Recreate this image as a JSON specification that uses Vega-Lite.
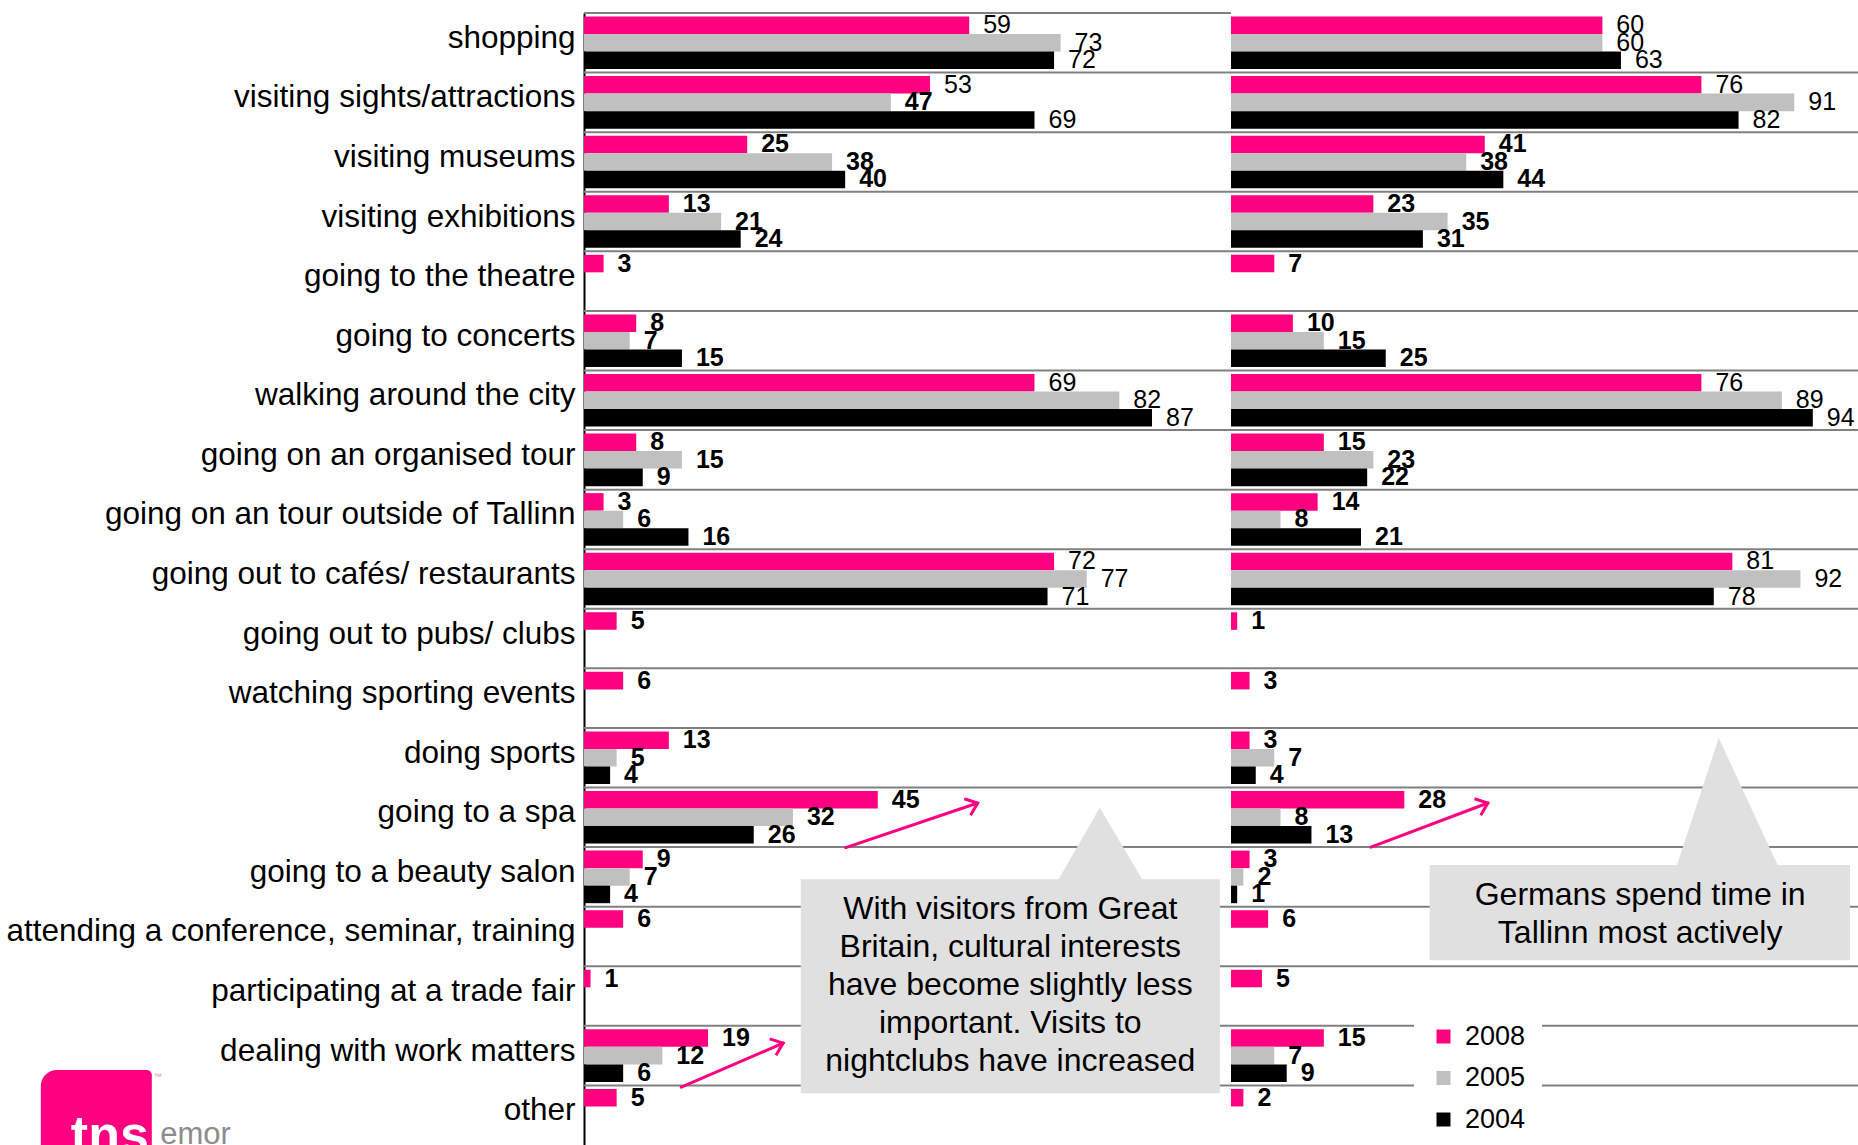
{
  "$schema": "https://vega.github.io/schema/vega-lite/v6.json",
  "width": 1274,
  "height": 1132,
  "autosize": {"type": "none"},
  "padding": {"left": 584, "top": 13, "right": 0, "bottom": 0},
  "background": "white",
  "config": {"view": {"stroke": null}, "font": "Liberation Sans"},
  "datasets": {
    "bars": [
      {"panel": "GB", "activity": "shopping", "year": "2008", "value": 59},
      {"panel": "GB", "activity": "shopping", "year": "2005", "value": 73},
      {"panel": "GB", "activity": "shopping", "year": "2004", "value": 72},
      {"panel": "GB", "activity": "visiting sights/attractions", "year": "2008", "value": 53},
      {"panel": "GB", "activity": "visiting sights/attractions", "year": "2005", "value": 47},
      {"panel": "GB", "activity": "visiting sights/attractions", "year": "2004", "value": 69},
      {"panel": "GB", "activity": "visiting museums", "year": "2008", "value": 25},
      {"panel": "GB", "activity": "visiting museums", "year": "2005", "value": 38},
      {"panel": "GB", "activity": "visiting museums", "year": "2004", "value": 40},
      {"panel": "GB", "activity": "visiting exhibitions", "year": "2008", "value": 13},
      {"panel": "GB", "activity": "visiting exhibitions", "year": "2005", "value": 21},
      {"panel": "GB", "activity": "visiting exhibitions", "year": "2004", "value": 24},
      {"panel": "GB", "activity": "going to the theatre", "year": "2008", "value": 3},
      {"panel": "GB", "activity": "going to concerts", "year": "2008", "value": 8},
      {"panel": "GB", "activity": "going to concerts", "year": "2005", "value": 7},
      {"panel": "GB", "activity": "going to concerts", "year": "2004", "value": 15},
      {"panel": "GB", "activity": "walking around the city", "year": "2008", "value": 69},
      {"panel": "GB", "activity": "walking around the city", "year": "2005", "value": 82},
      {"panel": "GB", "activity": "walking around the city", "year": "2004", "value": 87},
      {"panel": "GB", "activity": "going on an organised tour", "year": "2008", "value": 8},
      {"panel": "GB", "activity": "going on an organised tour", "year": "2005", "value": 15},
      {"panel": "GB", "activity": "going on an organised tour", "year": "2004", "value": 9},
      {"panel": "GB", "activity": "going on an tour outside of Tallinn", "year": "2008", "value": 3},
      {"panel": "GB", "activity": "going on an tour outside of Tallinn", "year": "2005", "value": 6},
      {"panel": "GB", "activity": "going on an tour outside of Tallinn", "year": "2004", "value": 16},
      {"panel": "GB", "activity": "going out to cafés/ restaurants", "year": "2008", "value": 72},
      {"panel": "GB", "activity": "going out to cafés/ restaurants", "year": "2005", "value": 77},
      {"panel": "GB", "activity": "going out to cafés/ restaurants", "year": "2004", "value": 71},
      {"panel": "GB", "activity": "going out to pubs/ clubs", "year": "2008", "value": 5},
      {"panel": "GB", "activity": "watching sporting events", "year": "2008", "value": 6},
      {"panel": "GB", "activity": "doing sports", "year": "2008", "value": 13},
      {"panel": "GB", "activity": "doing sports", "year": "2005", "value": 5},
      {"panel": "GB", "activity": "doing sports", "year": "2004", "value": 4},
      {"panel": "GB", "activity": "going to a spa", "year": "2008", "value": 45},
      {"panel": "GB", "activity": "going to a spa", "year": "2005", "value": 32},
      {"panel": "GB", "activity": "going to a spa", "year": "2004", "value": 26},
      {"panel": "GB", "activity": "going to a beauty salon", "year": "2008", "value": 9},
      {"panel": "GB", "activity": "going to a beauty salon", "year": "2005", "value": 7},
      {"panel": "GB", "activity": "going to a beauty salon", "year": "2004", "value": 4},
      {"panel": "GB", "activity": "attending a conference, seminar, training", "year": "2008", "value": 6},
      {"panel": "GB", "activity": "participating at a trade fair", "year": "2008", "value": 1},
      {"panel": "GB", "activity": "dealing with work matters", "year": "2008", "value": 19},
      {"panel": "GB", "activity": "dealing with work matters", "year": "2005", "value": 12},
      {"panel": "GB", "activity": "dealing with work matters", "year": "2004", "value": 6},
      {"panel": "GB", "activity": "other", "year": "2008", "value": 5},
      {"panel": "DE", "activity": "shopping", "year": "2008", "value": 60},
      {"panel": "DE", "activity": "shopping", "year": "2005", "value": 60},
      {"panel": "DE", "activity": "shopping", "year": "2004", "value": 63},
      {"panel": "DE", "activity": "visiting sights/attractions", "year": "2008", "value": 76},
      {"panel": "DE", "activity": "visiting sights/attractions", "year": "2005", "value": 91},
      {"panel": "DE", "activity": "visiting sights/attractions", "year": "2004", "value": 82},
      {"panel": "DE", "activity": "visiting museums", "year": "2008", "value": 41},
      {"panel": "DE", "activity": "visiting museums", "year": "2005", "value": 38},
      {"panel": "DE", "activity": "visiting museums", "year": "2004", "value": 44},
      {"panel": "DE", "activity": "visiting exhibitions", "year": "2008", "value": 23},
      {"panel": "DE", "activity": "visiting exhibitions", "year": "2005", "value": 35},
      {"panel": "DE", "activity": "visiting exhibitions", "year": "2004", "value": 31},
      {"panel": "DE", "activity": "going to the theatre", "year": "2008", "value": 7},
      {"panel": "DE", "activity": "going to concerts", "year": "2008", "value": 10},
      {"panel": "DE", "activity": "going to concerts", "year": "2005", "value": 15},
      {"panel": "DE", "activity": "going to concerts", "year": "2004", "value": 25},
      {"panel": "DE", "activity": "walking around the city", "year": "2008", "value": 76},
      {"panel": "DE", "activity": "walking around the city", "year": "2005", "value": 89},
      {"panel": "DE", "activity": "walking around the city", "year": "2004", "value": 94},
      {"panel": "DE", "activity": "going on an organised tour", "year": "2008", "value": 15},
      {"panel": "DE", "activity": "going on an organised tour", "year": "2005", "value": 23},
      {"panel": "DE", "activity": "going on an organised tour", "year": "2004", "value": 22},
      {"panel": "DE", "activity": "going on an tour outside of Tallinn", "year": "2008", "value": 14},
      {"panel": "DE", "activity": "going on an tour outside of Tallinn", "year": "2005", "value": 8},
      {"panel": "DE", "activity": "going on an tour outside of Tallinn", "year": "2004", "value": 21},
      {"panel": "DE", "activity": "going out to cafés/ restaurants", "year": "2008", "value": 81},
      {"panel": "DE", "activity": "going out to cafés/ restaurants", "year": "2005", "value": 92},
      {"panel": "DE", "activity": "going out to cafés/ restaurants", "year": "2004", "value": 78},
      {"panel": "DE", "activity": "going out to pubs/ clubs", "year": "2008", "value": 1},
      {"panel": "DE", "activity": "watching sporting events", "year": "2008", "value": 3},
      {"panel": "DE", "activity": "doing sports", "year": "2008", "value": 3},
      {"panel": "DE", "activity": "doing sports", "year": "2005", "value": 7},
      {"panel": "DE", "activity": "doing sports", "year": "2004", "value": 4},
      {"panel": "DE", "activity": "going to a spa", "year": "2008", "value": 28},
      {"panel": "DE", "activity": "going to a spa", "year": "2005", "value": 8},
      {"panel": "DE", "activity": "going to a spa", "year": "2004", "value": 13},
      {"panel": "DE", "activity": "going to a beauty salon", "year": "2008", "value": 3},
      {"panel": "DE", "activity": "going to a beauty salon", "year": "2005", "value": 2},
      {"panel": "DE", "activity": "going to a beauty salon", "year": "2004", "value": 1},
      {"panel": "DE", "activity": "attending a conference, seminar, training", "year": "2008", "value": 6},
      {"panel": "DE", "activity": "participating at a trade fair", "year": "2008", "value": 5},
      {"panel": "DE", "activity": "dealing with work matters", "year": "2008", "value": 15},
      {"panel": "DE", "activity": "dealing with work matters", "year": "2005", "value": 7},
      {"panel": "DE", "activity": "dealing with work matters", "year": "2004", "value": 9},
      {"panel": "DE", "activity": "other", "year": "2008", "value": 2}
    ],
    "boxes": [
      {"panel": "GB", "x1": 33.2, "x2": 97.4, "y1": 14.54, "y2": 18.13},
      {"panel": "DE", "x1": 32.1, "x2": 100.0, "y1": 14.3, "y2": 15.9}
    ],
    "pointers": [
      {"panel": "GB", "x": 72.6, "y": 14.56, "base": 14.56},
      {"panel": "GB", "x": 79.0, "y": 13.34, "base": 14.56},
      {"panel": "GB", "x": 85.6, "y": 14.56, "base": 14.56},
      {"panel": "DE", "x": 72.0, "y": 14.32, "base": 14.32},
      {"panel": "DE", "x": 78.8, "y": 12.17, "base": 14.32},
      {"panel": "DE", "x": 88.4, "y": 14.32, "base": 14.32}
    ],
    "notes": [
      {"panel": "GB", "x": 65.3, "y": 15.04, "text": "With visitors from Great\nBritain, cultural interests\nhave become slightly less\nimportant. Visits to\nnightclubs have increased"},
      {"panel": "DE", "x": 66.1, "y": 14.8, "text": "Germans spend time in\nTallinn most actively"}
    ],
    "arrows": [
      {"panel": "GB", "x1": 40.1, "y1": 14.01, "x2": 60.3, "y2": 13.26},
      {"panel": "GB", "x1": 14.9, "y1": 18.03, "x2": 30.5, "y2": 17.29},
      {"panel": "DE", "x1": 22.6, "y1": 14.0, "x2": 41.5, "y2": 13.26}
    ],
    "logo": [
      {"x1": -83.2, "x2": -66.2, "y1": 17.74, "y2": 19.4}
    ],
    "logotext": [
      {"part": "tns", "x": -78.6, "y": 19.12},
      {"part": "emor", "x": -64.9, "y": 18.98},
      {"part": "tm", "x": -65.9, "y": 17.86}
    ]
  },
  "resolve": {"scale": {"x": "independent", "y": "independent", "color": "shared"}},
  "layer": [
    {
      "data": {"name": "bars"},
      "transform": [{"filter": "datum.panel == 'GB' && datum.year == '2008' && datum.activity != 'shopping'"}],
      "mark": {"type": "rule", "color": "#808080", "strokeWidth": 2},
      "encoding": {
        "y": {"field": "activity", "type": "nominal", "bandPosition": 0, "axis": null,
              "scale": {"domain": ["shopping","visiting sights/attractions","visiting museums","visiting exhibitions","going to the theatre","going to concerts","walking around the city","going on an organised tour","going on an tour outside of Tallinn","going out to cafés/ restaurants","going out to pubs/ clubs","watching sporting events","doing sports","going to a spa","going to a beauty salon","attending a conference, seminar, training","participating at a trade fair","dealing with work matters","other"], "paddingInner": 0, "paddingOuter": 0}}
      }
    },
    {
      "data": {"name": "bars"},
      "transform": [{"filter": "datum.panel == 'GB' && datum.year == '2008' && datum.activity == 'shopping'"}],
      "mark": {"type": "rule", "color": "#808080", "strokeWidth": 2},
      "encoding": {
        "y": {"field": "activity", "type": "nominal", "bandPosition": 0, "axis": null,
              "scale": {"domain": ["shopping","visiting sights/attractions","visiting museums","visiting exhibitions","going to the theatre","going to concerts","walking around the city","going on an organised tour","going on an tour outside of Tallinn","going out to cafés/ restaurants","going out to pubs/ clubs","watching sporting events","doing sports","going to a spa","going to a beauty salon","attending a conference, seminar, training","participating at a trade fair","dealing with work matters","other"], "paddingInner": 0, "paddingOuter": 0}},
        "x": {"datum": 0, "type": "quantitative", "axis": null, "scale": {"domain": [0, 99.1], "range": [0, 647], "nice": false}},
        "x2": {"datum": 99.1}
      }
    },
    {
      "data": {"name": "bars"},
      "transform": [{"filter": "datum.panel == 'GB'"}],
      "mark": {"type": "bar"},
      "encoding": {
        "y": {"field": "activity", "type": "nominal",
              "scale": {"domain": ["shopping","visiting sights/attractions","visiting museums","visiting exhibitions","going to the theatre","going to concerts","walking around the city","going on an organised tour","going on an tour outside of Tallinn","going out to cafés/ restaurants","going out to pubs/ clubs","watching sporting events","doing sports","going to a spa","going to a beauty salon","attending a conference, seminar, training","participating at a trade fair","dealing with work matters","other"], "paddingInner": 0, "paddingOuter": 0},
              "axis": {"title": null, "orient": "left", "ticks": false, "grid": false, "domain": true, "domainColor": "#000000", "domainWidth": 2, "labelFontSize": 31.5, "labelFont": "Liberation Sans", "labelColor": "#000000", "labelPadding": 9, "labelOffset": -4, "labelLimit": 800}},
        "yOffset": {"field": "year", "type": "nominal", "scale": {"domain": ["2008", "2005", "2004"], "paddingInner": 0, "paddingOuter": 0.2}},
        "x": {"field": "value", "type": "quantitative", "axis": null, "scale": {"domain": [0, 99.1], "range": [0, 647], "nice": false}},
        "color": {"field": "year", "type": "nominal",
                  "scale": {"domain": ["2008", "2005", "2004"], "range": ["#FF0080", "#C0C0C0", "#000000"]},
                  "legend": {"title": null, "orient": "none", "legendX": 830, "legendY": 994, "symbolType": "square", "symbolSize": 196, "symbolStrokeWidth": 0, "labelFontSize": 27, "labelFont": "Liberation Sans", "labelColor": "#000000", "labelOffset": 8, "rowPadding": 13.5, "padding": 16, "fillColor": "white"}}
      }
    },
    {
      "data": {"name": "bars"},
      "transform": [{"filter": "datum.panel == 'DE'"}],
      "mark": {"type": "bar"},
      "encoding": {
        "y": {"field": "activity", "type": "nominal", "axis": null,
              "scale": {"domain": ["shopping","visiting sights/attractions","visiting museums","visiting exhibitions","going to the theatre","going to concerts","walking around the city","going on an organised tour","going on an tour outside of Tallinn","going out to cafés/ restaurants","going out to pubs/ clubs","watching sporting events","doing sports","going to a spa","going to a beauty salon","attending a conference, seminar, training","participating at a trade fair","dealing with work matters","other"], "paddingInner": 0, "paddingOuter": 0}},
        "yOffset": {"field": "year", "type": "nominal", "scale": {"domain": ["2008", "2005", "2004"], "paddingInner": 0, "paddingOuter": 0.2}},
        "x": {"field": "value", "type": "quantitative", "axis": null, "scale": {"domain": [0, 101.3], "range": [647, 1274], "nice": false}},
        "color": {"field": "year", "type": "nominal",
                  "scale": {"domain": ["2008", "2005", "2004"], "range": ["#FF0080", "#C0C0C0", "#000000"]},
                  "legend": {"title": null, "orient": "none", "legendX": 830, "legendY": 994, "symbolType": "square", "symbolSize": 196, "symbolStrokeWidth": 0, "labelFontSize": 27, "labelFont": "Liberation Sans", "labelColor": "#000000", "labelOffset": 8, "rowPadding": 13.5, "padding": 16, "fillColor": "white"}}
      }
    },
    {
      "data": {"name": "bars"},
      "transform": [{"filter": "datum.panel == 'GB' && datum.value < 50"}],
      "mark": {"type": "text", "align": "left", "baseline": "middle", "dx": 14, "fontSize": 25, "fontWeight": "bold", "color": "#000000"},
      "encoding": {
        "y": {"field": "activity", "type": "nominal", "axis": null,
              "scale": {"domain": ["shopping","visiting sights/attractions","visiting museums","visiting exhibitions","going to the theatre","going to concerts","walking around the city","going on an organised tour","going on an tour outside of Tallinn","going out to cafés/ restaurants","going out to pubs/ clubs","watching sporting events","doing sports","going to a spa","going to a beauty salon","attending a conference, seminar, training","participating at a trade fair","dealing with work matters","other"], "paddingInner": 0, "paddingOuter": 0}},
        "yOffset": {"field": "year", "type": "nominal", "scale": {"domain": ["2008", "2005", "2004"], "paddingInner": 0, "paddingOuter": 0.2}},
        "x": {"field": "value", "type": "quantitative", "axis": null, "scale": {"domain": [0, 99.1], "range": [0, 647], "nice": false}},
        "text": {"field": "value", "type": "quantitative"}
      }
    },
    {
      "data": {"name": "bars"},
      "transform": [{"filter": "datum.panel == 'GB' && datum.value >= 50"}],
      "mark": {"type": "text", "align": "left", "baseline": "middle", "dx": 14, "fontSize": 25, "fontWeight": "normal", "color": "#000000"},
      "encoding": {
        "y": {"field": "activity", "type": "nominal", "axis": null,
              "scale": {"domain": ["shopping","visiting sights/attractions","visiting museums","visiting exhibitions","going to the theatre","going to concerts","walking around the city","going on an organised tour","going on an tour outside of Tallinn","going out to cafés/ restaurants","going out to pubs/ clubs","watching sporting events","doing sports","going to a spa","going to a beauty salon","attending a conference, seminar, training","participating at a trade fair","dealing with work matters","other"], "paddingInner": 0, "paddingOuter": 0}},
        "yOffset": {"field": "year", "type": "nominal", "scale": {"domain": ["2008", "2005", "2004"], "paddingInner": 0, "paddingOuter": 0.2}},
        "x": {"field": "value", "type": "quantitative", "axis": null, "scale": {"domain": [0, 99.1], "range": [0, 647], "nice": false}},
        "text": {"field": "value", "type": "quantitative"}
      }
    },
    {
      "data": {"name": "bars"},
      "transform": [{"filter": "datum.panel == 'DE' && datum.value < 50"}],
      "mark": {"type": "text", "align": "left", "baseline": "middle", "dx": 14, "fontSize": 25, "fontWeight": "bold", "color": "#000000"},
      "encoding": {
        "y": {"field": "activity", "type": "nominal", "axis": null,
              "scale": {"domain": ["shopping","visiting sights/attractions","visiting museums","visiting exhibitions","going to the theatre","going to concerts","walking around the city","going on an organised tour","going on an tour outside of Tallinn","going out to cafés/ restaurants","going out to pubs/ clubs","watching sporting events","doing sports","going to a spa","going to a beauty salon","attending a conference, seminar, training","participating at a trade fair","dealing with work matters","other"], "paddingInner": 0, "paddingOuter": 0}},
        "yOffset": {"field": "year", "type": "nominal", "scale": {"domain": ["2008", "2005", "2004"], "paddingInner": 0, "paddingOuter": 0.2}},
        "x": {"field": "value", "type": "quantitative", "axis": null, "scale": {"domain": [0, 101.3], "range": [647, 1274], "nice": false}},
        "text": {"field": "value", "type": "quantitative"}
      }
    },
    {
      "data": {"name": "bars"},
      "transform": [{"filter": "datum.panel == 'DE' && datum.value >= 50"}],
      "mark": {"type": "text", "align": "left", "baseline": "middle", "dx": 14, "fontSize": 25, "fontWeight": "normal", "color": "#000000"},
      "encoding": {
        "y": {"field": "activity", "type": "nominal", "axis": null,
              "scale": {"domain": ["shopping","visiting sights/attractions","visiting museums","visiting exhibitions","going to the theatre","going to concerts","walking around the city","going on an organised tour","going on an tour outside of Tallinn","going out to cafés/ restaurants","going out to pubs/ clubs","watching sporting events","doing sports","going to a spa","going to a beauty salon","attending a conference, seminar, training","participating at a trade fair","dealing with work matters","other"], "paddingInner": 0, "paddingOuter": 0}},
        "yOffset": {"field": "year", "type": "nominal", "scale": {"domain": ["2008", "2005", "2004"], "paddingInner": 0, "paddingOuter": 0.2}},
        "x": {"field": "value", "type": "quantitative", "axis": null, "scale": {"domain": [0, 101.3], "range": [647, 1274], "nice": false}},
        "text": {"field": "value", "type": "quantitative"}
      }
    },
    {
      "mark": {"type": "rule", "color": "#000000", "strokeWidth": 2},
      "encoding": {
        "x": {"datum": 0, "type": "quantitative", "axis": null, "scale": {"domain": [0, 101.3], "range": [647, 1274], "nice": false}}
      }
    },
    {
      "data": {"name": "pointers"},
      "transform": [{"filter": "datum.panel == 'GB'"}],
      "mark": {"type": "area", "color": "#E0E0E0", "opacity": 1},
      "encoding": {
        "x": {"field": "x", "type": "quantitative", "axis": null, "scale": {"domain": [0, 99.1], "range": [0, 647], "nice": false}},
        "y": {"field": "y", "type": "quantitative", "axis": null, "stack": null, "scale": {"domain": [0, 19], "reverse": true, "nice": false, "zero": false}},
        "y2": {"field": "base"}
      }
    },
    {
      "data": {"name": "pointers"},
      "transform": [{"filter": "datum.panel == 'DE'"}],
      "mark": {"type": "area", "color": "#E0E0E0", "opacity": 1},
      "encoding": {
        "x": {"field": "x", "type": "quantitative", "axis": null, "scale": {"domain": [0, 101.3], "range": [647, 1274], "nice": false}},
        "y": {"field": "y", "type": "quantitative", "axis": null, "stack": null, "scale": {"domain": [0, 19], "reverse": true, "nice": false, "zero": false}},
        "y2": {"field": "base"}
      }
    },
    {
      "data": {"name": "boxes"},
      "transform": [{"filter": "datum.panel == 'GB'"}],
      "mark": {"type": "rect", "color": "#E0E0E0"},
      "encoding": {
        "x": {"field": "x1", "type": "quantitative", "axis": null, "scale": {"domain": [0, 99.1], "range": [0, 647], "nice": false}},
        "x2": {"field": "x2"},
        "y": {"field": "y1", "type": "quantitative", "axis": null, "scale": {"domain": [0, 19], "reverse": true, "nice": false, "zero": false}},
        "y2": {"field": "y2"}
      }
    },
    {
      "data": {"name": "boxes"},
      "transform": [{"filter": "datum.panel == 'DE'"}],
      "mark": {"type": "rect", "color": "#E0E0E0"},
      "encoding": {
        "x": {"field": "x1", "type": "quantitative", "axis": null, "scale": {"domain": [0, 101.3], "range": [647, 1274], "nice": false}},
        "x2": {"field": "x2"},
        "y": {"field": "y1", "type": "quantitative", "axis": null, "scale": {"domain": [0, 19], "reverse": true, "nice": false, "zero": false}},
        "y2": {"field": "y2"}
      }
    },
    {
      "data": {"name": "notes"},
      "transform": [{"filter": "datum.panel == 'GB'"}],
      "mark": {"type": "text", "align": "center", "baseline": "middle", "fontSize": 32, "lineHeight": 38, "lineBreak": "\n", "color": "#000000"},
      "encoding": {
        "x": {"field": "x", "type": "quantitative", "axis": null, "scale": {"domain": [0, 99.1], "range": [0, 647], "nice": false}},
        "y": {"field": "y", "type": "quantitative", "axis": null, "scale": {"domain": [0, 19], "reverse": true, "nice": false, "zero": false}},
        "text": {"field": "text"}
      }
    },
    {
      "data": {"name": "notes"},
      "transform": [{"filter": "datum.panel == 'DE'"}],
      "mark": {"type": "text", "align": "center", "baseline": "middle", "fontSize": 32, "lineHeight": 38, "lineBreak": "\n", "color": "#000000"},
      "encoding": {
        "x": {"field": "x", "type": "quantitative", "axis": null, "scale": {"domain": [0, 101.3], "range": [647, 1274], "nice": false}},
        "y": {"field": "y", "type": "quantitative", "axis": null, "scale": {"domain": [0, 19], "reverse": true, "nice": false, "zero": false}},
        "text": {"field": "text"}
      }
    },
    {
      "data": {"name": "arrows"},
      "transform": [{"filter": "datum.panel == 'GB'"}],
      "mark": {"type": "rule", "color": "#FF0080", "strokeWidth": 3, "strokeCap": "round"},
      "encoding": {
        "x": {"field": "x1", "type": "quantitative", "axis": null, "scale": {"domain": [0, 99.1], "range": [0, 647], "nice": false}},
        "x2": {"field": "x2"},
        "y": {"field": "y1", "type": "quantitative", "axis": null, "scale": {"domain": [0, 19], "reverse": true, "nice": false, "zero": false}},
        "y2": {"field": "y2"}
      }
    },
    {
      "data": {"name": "arrows"},
      "transform": [{"filter": "datum.panel == 'GB'"}],
      "mark": {"type": "point", "shape": "M-1,-0.8L0,0L-1,0.8", "filled": false, "stroke": "#FF0080", "strokeWidth": 3, "size": 484, "angle": 339, "opacity": 1},
      "encoding": {
        "x": {"field": "x2", "type": "quantitative", "axis": null, "scale": {"domain": [0, 99.1], "range": [0, 647], "nice": false}},
        "y": {"field": "y2", "type": "quantitative", "axis": null, "scale": {"domain": [0, 19], "reverse": true, "nice": false, "zero": false}}
      }
    },
    {
      "data": {"name": "arrows"},
      "transform": [{"filter": "datum.panel == 'DE'"}],
      "mark": {"type": "rule", "color": "#FF0080", "strokeWidth": 3, "strokeCap": "round"},
      "encoding": {
        "x": {"field": "x1", "type": "quantitative", "axis": null, "scale": {"domain": [0, 101.3], "range": [647, 1274], "nice": false}},
        "x2": {"field": "x2"},
        "y": {"field": "y1", "type": "quantitative", "axis": null, "scale": {"domain": [0, 19], "reverse": true, "nice": false, "zero": false}},
        "y2": {"field": "y2"}
      }
    },
    {
      "data": {"name": "arrows"},
      "transform": [{"filter": "datum.panel == 'DE'"}],
      "mark": {"type": "point", "shape": "M-1,-0.8L0,0L-1,0.8", "filled": false, "stroke": "#FF0080", "strokeWidth": 3, "size": 484, "angle": 339, "opacity": 1},
      "encoding": {
        "x": {"field": "x2", "type": "quantitative", "axis": null, "scale": {"domain": [0, 101.3], "range": [647, 1274], "nice": false}},
        "y": {"field": "y2", "type": "quantitative", "axis": null, "scale": {"domain": [0, 19], "reverse": true, "nice": false, "zero": false}}
      }
    },
    {
      "data": {"name": "logo"},
      "mark": {"type": "rect", "color": "#FF0080", "cornerRadiusTopLeft": 16, "cornerRadiusTopRight": 5},
      "encoding": {
        "x": {"field": "x1", "type": "quantitative", "axis": null, "scale": {"domain": [0, 99.1], "range": [0, 647], "nice": false}},
        "x2": {"field": "x2"},
        "y": {"field": "y1", "type": "quantitative", "axis": null, "scale": {"domain": [0, 19], "reverse": true, "nice": false, "zero": false}},
        "y2": {"field": "y2"}
      }
    },
    {
      "data": {"name": "logotext"},
      "transform": [{"filter": "datum.part == 'tns'"}],
      "mark": {"type": "text", "align": "left", "baseline": "alphabetic", "fontSize": 52, "fontWeight": "bold", "color": "white"},
      "encoding": {
        "x": {"field": "x", "type": "quantitative", "axis": null, "scale": {"domain": [0, 99.1], "range": [0, 647], "nice": false}},
        "y": {"field": "y", "type": "quantitative", "axis": null, "scale": {"domain": [0, 19], "reverse": true, "nice": false, "zero": false}},
        "text": {"field": "part"}
      }
    },
    {
      "data": {"name": "logotext"},
      "transform": [{"filter": "datum.part == 'emor'"}],
      "mark": {"type": "text", "align": "left", "baseline": "alphabetic", "fontSize": 31, "color": "#8C8C8C"},
      "encoding": {
        "x": {"field": "x", "type": "quantitative", "axis": null, "scale": {"domain": [0, 99.1], "range": [0, 647], "nice": false}},
        "y": {"field": "y", "type": "quantitative", "axis": null, "scale": {"domain": [0, 19], "reverse": true, "nice": false, "zero": false}},
        "text": {"field": "part"}
      }
    },
    {
      "data": {"name": "logotext"},
      "transform": [{"filter": "datum.part == 'tm'"}],
      "mark": {"type": "text", "align": "left", "baseline": "middle", "fontSize": 8, "color": "#E080B0", "text": "™"},
      "encoding": {
        "x": {"field": "x", "type": "quantitative", "axis": null, "scale": {"domain": [0, 99.1], "range": [0, 647], "nice": false}},
        "y": {"field": "y", "type": "quantitative", "axis": null, "scale": {"domain": [0, 19], "reverse": true, "nice": false, "zero": false}}
      }
    }
  ]
}
